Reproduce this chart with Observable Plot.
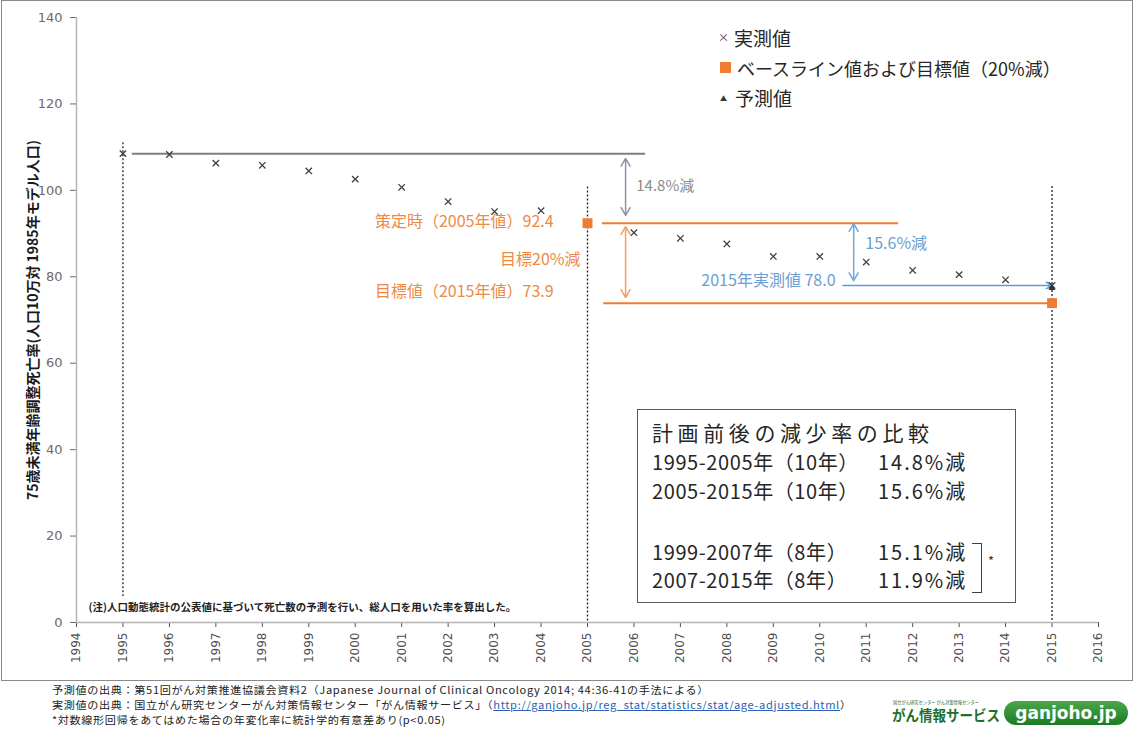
<!DOCTYPE html>
<html><head><meta charset="utf-8">
<script src="https://cdn.jsdelivr.net/npm/d3@7"></script>
<script src="https://cdn.jsdelivr.net/npm/@observablehq/plot@0.6"></script>
<style>
body{margin:0;background:#fff;font-family:"Noto Sans CJK JP","Noto Sans",sans-serif;}
#wrap{position:relative;width:1135px;height:731px;overflow:hidden;background:#fff;}
#frame{position:absolute;left:1px;top:0;width:1130px;height:679px;border:1.5px solid #8a8a8a;}
#chart{position:absolute;left:0;top:0;}
.abs{position:absolute;white-space:nowrap;}
.leg{font-size:18px;color:#262626;line-height:24px;height:24px;}
.box{position:absolute;left:637px;top:409px;width:377px;height:192px;border:1.5px solid #595959;background:#fff;}
.bx{position:absolute;white-space:nowrap;font-size:20px;color:#262626;line-height:28px;height:28px;}
.note{font-size:10.2px;color:#222;line-height:14px;height:14px;letter-spacing:0.6px;transform:scaleX(1.09);transform-origin:left top;}
</style>
</head><body>
<div id="wrap">
  <div id="frame"></div>
  <div id="chart"></div>
</div>
<script>
// ---- data ----
const years = [1995,1996,1997,1998,1999,2000,2001,2002,2003,2004,2005,2006,2007,2008,2009,2010,2011,2012,2013,2014,2015];
const measured = [108.5,108.3,106.3,105.8,104.5,102.6,100.7,97.4,95.1,95.3,92.4,90.2,88.9,87.6,84.7,84.7,83.4,81.5,80.5,79.3,78.0];
const baselineYears = [2005, 2015];
const baselineValues = [92.4, 73.9];
const predictedYears = [2015];
const predictedValues = [77.4];
const xTicks = [1994,1995,1996,1997,1998,1999,2000,2001,2002,2003,2004,2005,2006,2007,2008,2009,2010,2011,2012,2013,2014,2015,2016];
const yTicks = [0,20,40,60,80,100,120,140];
const guideYears = [1995, 2005, 2015];
const guideTop = [111, 100.8, 100.9];
const guideBottom = [6, 0, 0];
const legendLabels = ["実測値", "ベースライン値および目標値（20%減）", "予測値"];
const yLabel = "75歳未満年齢調整死亡率(人口10万対 1985年モデル人口)";
const noteText = "(注)人口動態統計の公表値に基づいて死亡数の予測を行い、総人口を用いた率を算出した。";
const boxTitle = "計画前後の減少率の比較";
const boxPeriods = ["1995-2005年（10年）", "2005-2015年（10年）", "1999-2007年（8年）", "2007-2015年（8年）"];
const boxRates = ["14.8%減", "15.6%減", "15.1%減", "11.9%減"];
const sourceLines = [
  "予測値の出典：第51回がん対策推進協議会資料2（Japanese Journal of Clinical Oncology 2014; 44:36-41の手法による）",
  "実測値の出典：国立がん研究センターがん対策情報センター「がん情報サービス」（",
  "*対数線形回帰をあてはめた場合の年変化率に統計学的有意差あり(p<0.05)"
];
const sourceUrl = "http://ganjoho.jp/reg_stat/statistics/stat/age-adjusted.html";

const measuredData = years.map((y, i) => ({year: y, value: measured[i]}));
const baselineData = baselineYears.map((y, i) => ({year: y, value: baselineValues[i]}));
const predictedData = predictedYears.map((y, i) => ({year: y, value: predictedValues[i]}));

const ORANGE = "#ed7d31", ORANGE_T = "#ee8a45", BLUE = "#5b9bd5", BLUE_T = "#6b9ed2", GRAY = "#7f7f7f";
const jp = '"Noto Sans CJK JP", sans-serif';

const chart = Plot.plot({
  width: 1135, height: 681,
  marginLeft: 76, marginRight: 37, marginTop: 17, marginBottom: 59,
  x: {domain: [1994, 2016]},
  y: {domain: [0, 140]},
  style: {fontFamily: '"DejaVu Sans", sans-serif', background: "transparent", overflow: "visible"},
  marks: [
    Plot.axisY({ticks: yTicks, tickSize: 6, tickPadding: 8, fontSize: 13, color: "#6a6a6a", label: null}),
    Plot.axisX({ticks: xTicks, tickFormat: d => String(d), tickRotate: -90, tickSize: 5, tickPadding: 5, fontSize: 12, color: "#505050", label: null}),
    Plot.ruleX([1994], {stroke: "#b4b4b4", strokeWidth: 1.5}),
    Plot.ruleY([0], {stroke: "#b4b4b4", strokeWidth: 1.5}),
    Plot.text([yLabel], {frameAnchor: "left", dx: -43, rotate: -90, textAnchor: "middle", fontSize: 14, fontWeight: "bold", fill: "#1a1a1a", fontFamily: jp}),
    // dotted guides
    Plot.ruleX(guideYears, {x: d => d, y1: guideTop, y2: guideBottom, stroke: "#222", strokeWidth: 1.3, strokeDasharray: "2,2"}),
    // reference lines
    Plot.ruleY([108.5], {x1: 1995.2, x2: 2006.25, stroke: GRAY, strokeWidth: 2}),
    Plot.ruleY([92.4], {x1: 2005.32, x2: 2011.7, stroke: ORANGE, strokeWidth: 2}),
    Plot.ruleY([73.9], {x1: 2005.35, x2: 2015, stroke: ORANGE, strokeWidth: 2}),
    Plot.arrow([{}], {x1: 2010.5, y1: 78.0, x2: 2015, y2: 78.0, stroke: BLUE, strokeWidth: 1.6, headLength: 6, headAngle: 60}),
    // double arrows
    Plot.arrow([{a: 100.8, b: 107.4}, {a: 100.8, b: 94.2}], {x1: () => 2005.82, x2: () => 2005.82, y1: "a", y2: "b", stroke: "#8a96a8", strokeWidth: 1.5, headLength: 9, headAngle: 60}),
    Plot.arrow([{a: 83.4, b: 91.6}, {a: 83.4, b: 75.2}], {x1: () => 2005.82, x2: () => 2005.82, y1: "a", y2: "b", stroke: "#f2a066", strokeWidth: 1.5, headLength: 9, headAngle: 60}),
    Plot.arrow([{a: 85.7, b: 92.3}, {a: 85.7, b: 79.1}], {x1: () => 2010.73, x2: () => 2010.73, y1: "a", y2: "b", stroke: "#6fa8dc", strokeWidth: 1.5, headLength: 9, headAngle: 60}),
    // annotations
    Plot.text([{x: 2006.05, y: 100.9, t: "14.8%減"}], {x: "x", y: "y", text: "t", textAnchor: "start", fill: "#8c8c8c", fontSize: 15, fontFamily: jp}),
    Plot.text([{x: 2010.98, y: 87.7, t: "15.6%減"}], {x: "x", y: "y", text: "t", textAnchor: "start", fill: BLUE_T, fontSize: 16, fontFamily: jp}),
    Plot.text([{x: 2010.34, y: 79.1, t: "2015年実測値 78.0"}], {x: "x", y: "y", text: "t", textAnchor: "end", fill: BLUE_T, fontSize: 16, fontFamily: jp}),
    Plot.text([{x: 2004.27, y: 92.8, t: "策定時（2005年値）92.4"}], {x: "x", y: "y", text: "t", textAnchor: "end", fill: ORANGE_T, fontSize: 16, fontFamily: jp}),
    Plot.text([{x: 2004.85, y: 84.0, t: "目標20%減"}], {x: "x", y: "y", text: "t", textAnchor: "end", fill: ORANGE_T, fontSize: 16, fontFamily: jp}),
    Plot.text([{x: 2004.27, y: 76.4, t: "目標値（2015年値）73.9"}], {x: "x", y: "y", text: "t", textAnchor: "end", fill: ORANGE_T, fontSize: 16, fontFamily: jp}),
    Plot.text([noteText], {x: () => 1994.26, y: () => 3.5, textAnchor: "start", fill: "#222", fontSize: 10.5, fontWeight: "bold", fontFamily: jp}),
    // points
    Plot.dot(measuredData, {x: "year", y: "value", symbol: "times", r: 3, stroke: "#404040", strokeWidth: 1.3}),
    Plot.dot(predictedData, {x: "year", y: "value", symbol: "triangle", r: 2.6, fill: "#333", stroke: "none"}),
    Plot.dot(baselineData, {x: "year", y: "value", symbol: "square", r: 5.6, fill: ORANGE, stroke: "none"})
  ]
});
document.getElementById("chart").appendChild(chart);

const wrap = document.getElementById("wrap");
function add(html, cls, left, top, extra) {
  const d = document.createElement("div");
  d.className = cls;
  d.style.left = left + "px";
  d.style.top = top + "px";
  if (extra) Object.assign(d.style, extra);
  d.innerHTML = html;
  wrap.appendChild(d);
  return d;
}
// legend
add("×", "abs leg", 718, 25, {fontSize: "11px", color: "#404040"});
add(legendLabels[0], "abs leg", 734, 26, {fontSize: "19px"});
add("", "abs", 720, 62, {width: "11px", height: "11px", background: ORANGE});
add(legendLabels[1], "abs leg", 737, 56);
add("▲", "abs leg", 720, 86, {fontSize: "7px", color: "#333"});
add(legendLabels[2], "abs leg", 735, 86, {fontSize: "19px"});

// comparison box
const box = document.createElement("div");
box.className = "box";
wrap.appendChild(box);
add(boxTitle, "abs bx", 652, 418, {fontSize: "21px", letterSpacing: "4.6px"});
const rowY = [448, 477, 538, 566];
boxPeriods.forEach((p, i) => {
  add(p, "abs bx", 652, rowY[i], {letterSpacing: "0.6px"});
  add(boxRates[i], "abs bx", 878, rowY[i], {letterSpacing: "2px"});
});
add("", "abs", 972, 543, {width: "9px", height: "48px", borderTop: "1.5px solid #404040", borderRight: "1.5px solid #404040", borderBottom: "1.5px solid #404040"});
add("*", "abs", 988, 551, {fontSize: "13px", color: "#333"});

// source notes
add(sourceLines[0], "abs note", 52, 683);
add(sourceLines[1] + '<span style="color:#2b5fb4;text-decoration:underline">' + sourceUrl + '</span>）', "abs note", 52, 698);
add(sourceLines[2], "abs note", 52, 713);

// logo
add("国立がん研究センター がん対策情報センター", "abs", 893, 699, {fontSize: "5px", color: "#2f6b2f", lineHeight: "6px", transform: "scaleX(0.85)", transformOrigin: "left top"});
add("がん情報サービス", "abs", 892, 705, {fontSize: "15px", fontWeight: "bold", color: "#1f6f2a", lineHeight: "20px", transform: "scaleX(0.9)", transformOrigin: "left top"});
add("ganjoho.jp", "abs", 1004, 701, {width: "124px", height: "24px", borderRadius: "12px", background: "linear-gradient(#4aa84a,#1d7a23)", color: "#fff", fontSize: "17px", fontWeight: "bold", lineHeight: "24px", textAlign: "center", fontFamily: '"DejaVu Sans", sans-serif'});
</script>
</body></html>
